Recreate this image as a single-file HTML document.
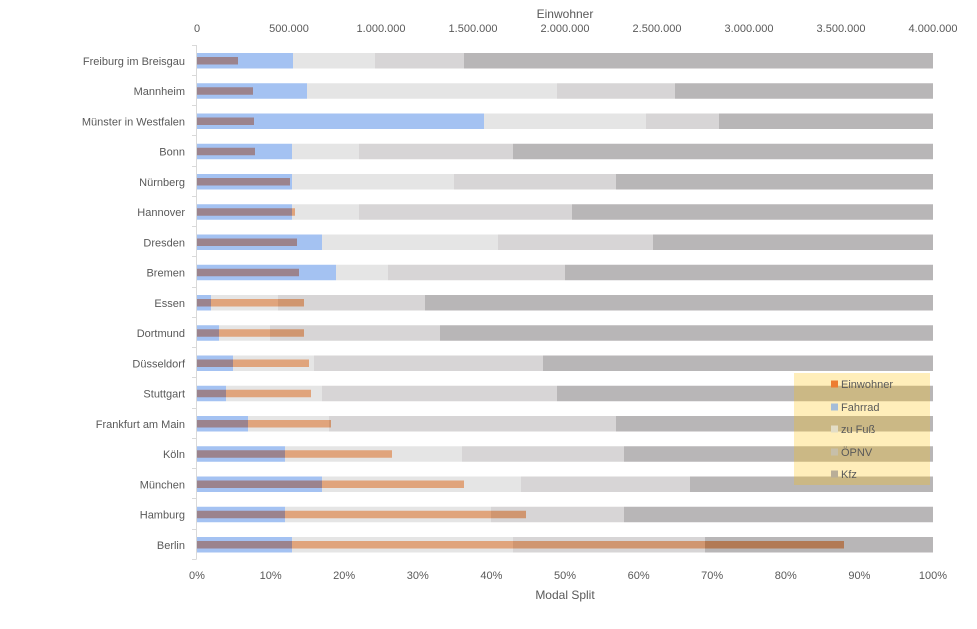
<!DOCTYPE html>
<html><head><meta charset="utf-8"><style>
html,body{margin:0;padding:0;background:#fff;}
svg{display:block;}
text{font-family:"Liberation Sans",sans-serif;fill:#595959;}
</style></head><body>
<svg width="977" height="629" viewBox="0 0 977 629" xmlns="http://www.w3.org/2000/svg">
<rect width="977" height="629" fill="#fff"/>
<!-- top axis -->
<text x="565" y="18" font-size="12" text-anchor="middle">Einwohner</text>
<g font-size="11" text-anchor="middle">
<text x="197" y="32">0</text>
<text x="289" y="32">500.000</text>
<text x="381" y="32">1.000.000</text>
<text x="473" y="32">1.500.000</text>
<text x="565" y="32">2.000.000</text>
<text x="657" y="32">2.500.000</text>
<text x="749" y="32">3.000.000</text>
<text x="841" y="32">3.500.000</text>
<text x="933" y="32">4.000.000</text>
</g>
<!-- bottom axis -->
<g font-size="11" text-anchor="middle">
<text x="197" y="579">0%</text>
<text x="270.6" y="579">10%</text>
<text x="344.2" y="579">20%</text>
<text x="417.8" y="579">30%</text>
<text x="491.4" y="579">40%</text>
<text x="565" y="579">50%</text>
<text x="638.6" y="579">60%</text>
<text x="712.2" y="579">70%</text>
<text x="785.8" y="579">80%</text>
<text x="859.4" y="579">90%</text>
<text x="933" y="579">100%</text>
</g>
<text x="565" y="599" font-size="12" text-anchor="middle">Modal Split</text>

<!-- y axis -->
<g stroke="#d9d9d9" stroke-width="1">
<line x1="196.5" y1="45" x2="196.5" y2="559.25"/>
<line x1="192" y1="45.5" x2="196.5" y2="45.5"/>
<line x1="192" y1="75.5" x2="196.5" y2="75.5"/>
<line x1="192" y1="105.5" x2="196.5" y2="105.5"/>
<line x1="192" y1="135.5" x2="196.5" y2="135.5"/>
<line x1="192" y1="166.5" x2="196.5" y2="166.5"/>
<line x1="192" y1="196.5" x2="196.5" y2="196.5"/>
<line x1="192" y1="226.5" x2="196.5" y2="226.5"/>
<line x1="192" y1="256.5" x2="196.5" y2="256.5"/>
<line x1="192" y1="287.5" x2="196.5" y2="287.5"/>
<line x1="192" y1="317.5" x2="196.5" y2="317.5"/>
<line x1="192" y1="347.5" x2="196.5" y2="347.5"/>
<line x1="192" y1="377.5" x2="196.5" y2="377.5"/>
<line x1="192" y1="408.5" x2="196.5" y2="408.5"/>
<line x1="192" y1="438.5" x2="196.5" y2="438.5"/>
<line x1="192" y1="468.5" x2="196.5" y2="468.5"/>
<line x1="192" y1="498.5" x2="196.5" y2="498.5"/>
<line x1="192" y1="529.5" x2="196.5" y2="529.5"/>
<line x1="192" y1="559.5" x2="196.5" y2="559.5"/>
</g>

<!-- category labels -->
<g font-size="11" text-anchor="end">
<text x="185" y="64.8">Freiburg im Breisgau</text>
<text x="185" y="95">Mannheim</text>
<text x="185" y="125.3">Münster in Westfalen</text>
<text x="185" y="155.5">Bonn</text>
<text x="185" y="185.8">Nürnberg</text>
<text x="185" y="216">Hannover</text>
<text x="185" y="246.3">Dresden</text>
<text x="185" y="276.5">Bremen</text>
<text x="185" y="306.8">Essen</text>
<text x="185" y="337">Dortmund</text>
<text x="185" y="367.3">Düsseldorf</text>
<text x="185" y="397.5">Stuttgart</text>
<text x="185" y="427.8">Frankfurt am Main</text>
<text x="185" y="458">Köln</text>
<text x="185" y="488.3">München</text>
<text x="185" y="518.5">Hamburg</text>
<text x="185" y="548.8">Berlin</text>
</g>

<!-- stacked bars: blue, light, mid, dark -->
<g>
<!-- 0 Freiburg top 53 -->
<rect x="197" y="53" width="96" height="15.5" fill="#a4c2f2"/>
<rect x="293" y="53" width="82" height="15.5" fill="#e5e5e5"/>
<rect x="375" y="53" width="89" height="15.5" fill="#d7d5d6"/>
<rect x="464" y="53" width="469" height="15.5" fill="#b8b6b7"/>
<!-- 1 Mannheim 83.25 -->
<rect x="197" y="83.25" width="110" height="15.5" fill="#a4c2f2"/>
<rect x="307" y="83.25" width="250" height="15.5" fill="#e5e5e5"/>
<rect x="557" y="83.25" width="118" height="15.5" fill="#d7d5d6"/>
<rect x="675" y="83.25" width="258" height="15.5" fill="#b8b6b7"/>
<!-- 2 Münster 113.5 -->
<rect x="197" y="113.5" width="287" height="15.5" fill="#a4c2f2"/>
<rect x="484" y="113.5" width="162" height="15.5" fill="#e5e5e5"/>
<rect x="646" y="113.5" width="73" height="15.5" fill="#d7d5d6"/>
<rect x="719" y="113.5" width="214" height="15.5" fill="#b8b6b7"/>
<!-- 3 Bonn 143.75 -->
<rect x="197" y="143.75" width="95" height="15.5" fill="#a4c2f2"/>
<rect x="292" y="143.75" width="67" height="15.5" fill="#e5e5e5"/>
<rect x="359" y="143.75" width="154" height="15.5" fill="#d7d5d6"/>
<rect x="513" y="143.75" width="420" height="15.5" fill="#b8b6b7"/>
<!-- 4 Nürnberg 174 -->
<rect x="197" y="174" width="95" height="15.5" fill="#a4c2f2"/>
<rect x="292" y="174" width="162" height="15.5" fill="#e5e5e5"/>
<rect x="454" y="174" width="162" height="15.5" fill="#d7d5d6"/>
<rect x="616" y="174" width="317" height="15.5" fill="#b8b6b7"/>
<!-- 5 Hannover 204.25 -->
<rect x="197" y="204.25" width="95" height="15.5" fill="#a4c2f2"/>
<rect x="292" y="204.25" width="67" height="15.5" fill="#e5e5e5"/>
<rect x="359" y="204.25" width="213" height="15.5" fill="#d7d5d6"/>
<rect x="572" y="204.25" width="361" height="15.5" fill="#b8b6b7"/>
<!-- 6 Dresden 234.5 -->
<rect x="197" y="234.5" width="125" height="15.5" fill="#a4c2f2"/>
<rect x="322" y="234.5" width="176" height="15.5" fill="#e5e5e5"/>
<rect x="498" y="234.5" width="155" height="15.5" fill="#d7d5d6"/>
<rect x="653" y="234.5" width="280" height="15.5" fill="#b8b6b7"/>
<!-- 7 Bremen 264.75 -->
<rect x="197" y="264.75" width="139" height="15.5" fill="#a4c2f2"/>
<rect x="336" y="264.75" width="52" height="15.5" fill="#e5e5e5"/>
<rect x="388" y="264.75" width="177" height="15.5" fill="#d7d5d6"/>
<rect x="565" y="264.75" width="368" height="15.5" fill="#b8b6b7"/>
<!-- 8 Essen 295 -->
<rect x="197" y="295" width="14" height="15.5" fill="#a4c2f2"/>
<rect x="211" y="295" width="67" height="15.5" fill="#e5e5e5"/>
<rect x="278" y="295" width="147" height="15.5" fill="#d7d5d6"/>
<rect x="425" y="295" width="508" height="15.5" fill="#b8b6b7"/>
<!-- 9 Dortmund 325.25 -->
<rect x="197" y="325.25" width="22" height="15.5" fill="#a4c2f2"/>
<rect x="219" y="325.25" width="51" height="15.5" fill="#e5e5e5"/>
<rect x="270" y="325.25" width="170" height="15.5" fill="#d7d5d6"/>
<rect x="440" y="325.25" width="493" height="15.5" fill="#b8b6b7"/>
<!-- 10 Düsseldorf 355.5 -->
<rect x="197" y="355.5" width="36" height="15.5" fill="#a4c2f2"/>
<rect x="233" y="355.5" width="81" height="15.5" fill="#e5e5e5"/>
<rect x="314" y="355.5" width="229" height="15.5" fill="#d7d5d6"/>
<rect x="543" y="355.5" width="390" height="15.5" fill="#b8b6b7"/>
<!-- 11 Stuttgart 385.75 -->
<rect x="197" y="385.75" width="29" height="15.5" fill="#a4c2f2"/>
<rect x="226" y="385.75" width="96" height="15.5" fill="#e5e5e5"/>
<rect x="322" y="385.75" width="235" height="15.5" fill="#d7d5d6"/>
<rect x="557" y="385.75" width="376" height="15.5" fill="#b8b6b7"/>
<!-- 12 Frankfurt 416 -->
<rect x="197" y="416" width="51" height="15.5" fill="#a4c2f2"/>
<rect x="248" y="416" width="81" height="15.5" fill="#e5e5e5"/>
<rect x="329" y="416" width="287" height="15.5" fill="#d7d5d6"/>
<rect x="616" y="416" width="317" height="15.5" fill="#b8b6b7"/>
<!-- 13 Köln 446.25 -->
<rect x="197" y="446.25" width="88" height="15.5" fill="#a4c2f2"/>
<rect x="285" y="446.25" width="177" height="15.5" fill="#e5e5e5"/>
<rect x="462" y="446.25" width="162" height="15.5" fill="#d7d5d6"/>
<rect x="624" y="446.25" width="309" height="15.5" fill="#b8b6b7"/>
<!-- 14 München 476.5 -->
<rect x="197" y="476.5" width="125" height="15.5" fill="#a4c2f2"/>
<rect x="322" y="476.5" width="199" height="15.5" fill="#e5e5e5"/>
<rect x="521" y="476.5" width="169" height="15.5" fill="#d7d5d6"/>
<rect x="690" y="476.5" width="243" height="15.5" fill="#b8b6b7"/>
<!-- 15 Hamburg 506.75 -->
<rect x="197" y="506.75" width="88" height="15.5" fill="#a4c2f2"/>
<rect x="285" y="506.75" width="206" height="15.5" fill="#e5e5e5"/>
<rect x="491" y="506.75" width="133" height="15.5" fill="#d7d5d6"/>
<rect x="624" y="506.75" width="309" height="15.5" fill="#b8b6b7"/>
<!-- 16 Berlin 537 -->
<rect x="197" y="537" width="95" height="15.5" fill="#a4c2f2"/>
<rect x="292" y="537" width="221" height="15.5" fill="#e5e5e5"/>
<rect x="513" y="537" width="192" height="15.5" fill="#d7d5d6"/>
<rect x="705" y="537" width="228" height="15.5" fill="#b8b6b7"/>
</g>

<!-- Einwohner bars -->
<g>
<rect x="197" y="57" width="41" height="7.5" fill="#9b838d"/>
<rect x="197" y="87.25" width="56" height="7.5" fill="#9b838d"/>
<rect x="197" y="117.5" width="57" height="7.5" fill="#9b838d"/>
<rect x="197" y="147.75" width="58" height="7.5" fill="#9b838d"/>
<rect x="197" y="178" width="93" height="7.5" fill="#9b838d"/>
<rect x="197" y="208.25" width="95" height="7.5" fill="#9b838d"/>
<rect x="292" y="208.25" width="3" height="7.5" fill="#e0a47c"/>
<rect x="197" y="238.5" width="100" height="7.5" fill="#9b838d"/>
<rect x="197" y="268.75" width="102" height="7.5" fill="#9b838d"/>
<rect x="197" y="299" width="14" height="7.5" fill="#9b838d"/>
<rect x="211" y="299" width="67" height="7.5" fill="#e0a47c"/>
<rect x="278" y="299" width="26" height="7.5" fill="#d09670"/>
<rect x="197" y="329.25" width="22" height="7.5" fill="#9b838d"/>
<rect x="219" y="329.25" width="51" height="7.5" fill="#e0a47c"/>
<rect x="270" y="329.25" width="34" height="7.5" fill="#d09670"/>
<rect x="197" y="359.5" width="36" height="7.5" fill="#9b838d"/>
<rect x="233" y="359.5" width="76" height="7.5" fill="#e0a47c"/>
<rect x="197" y="389.75" width="29" height="7.5" fill="#9b838d"/>
<rect x="226" y="389.75" width="85" height="7.5" fill="#e0a47c"/>
<rect x="197" y="420" width="51" height="7.5" fill="#9b838d"/>
<rect x="248" y="420" width="81" height="7.5" fill="#e0a47c"/>
<rect x="329" y="420" width="2" height="7.5" fill="#d09670"/>
<rect x="197" y="450.25" width="88" height="7.5" fill="#9b838d"/>
<rect x="285" y="450.25" width="107" height="7.5" fill="#e0a47c"/>
<rect x="197" y="480.5" width="125" height="7.5" fill="#9b838d"/>
<rect x="322" y="480.5" width="142" height="7.5" fill="#e0a47c"/>
<rect x="197" y="510.75" width="88" height="7.5" fill="#9b838d"/>
<rect x="285" y="510.75" width="206" height="7.5" fill="#e0a47c"/>
<rect x="491" y="510.75" width="35" height="7.5" fill="#d09670"/>
<rect x="197" y="541" width="95" height="7.5" fill="#9b838d"/>
<rect x="292" y="541" width="221" height="7.5" fill="#e0a47c"/>
<rect x="513" y="541" width="192" height="7.5" fill="#d09670"/>
<rect x="705" y="541" width="139" height="7.5" fill="#b27a55"/>
</g>

<!-- legend -->
<rect x="794" y="373" width="136" height="112" fill="rgba(255,192,0,0.27)"/>
<rect x="831" y="380.5" width="7" height="7" fill="#ed7d31"/>
<rect x="831" y="403.5" width="7" height="7" fill="#a5bdd8"/>
<rect x="831" y="425.5" width="7" height="7" fill="#e3ddc6"/>
<rect x="831" y="448.5" width="7" height="7" fill="#c7bfa9"/>
<rect x="831" y="470.5" width="7" height="7" fill="#b9ae98"/>
<g font-size="11">
<text x="841" y="388">Einwohner</text>
<text x="841" y="411">Fahrrad</text>
<text x="841" y="433">zu Fuß</text>
<text x="841" y="456">ÖPNV</text>
<text x="841" y="478">Kfz</text>
</g>
</svg>
</body></html>
